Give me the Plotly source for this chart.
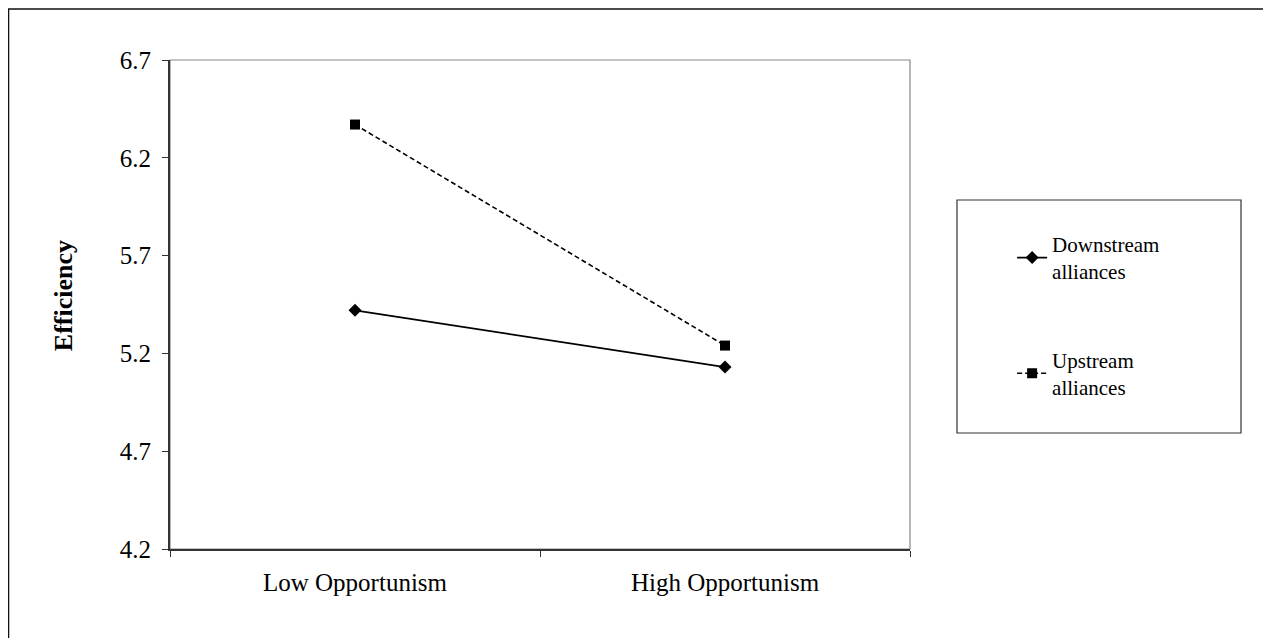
import plotly.graph_objects as go

categories = ["Low Opportunism", "High Opportunism"]
downstream = [5.42, 5.13]
upstream = [6.37, 5.24]
series_names = ["Downstream<br>alliances", "Upstream<br>alliances"]
y_ticks = [4.2, 4.7, 5.2, 5.7, 6.2, 6.7]
y_title = "Efficiency"

FONT = "Liberation Serif"

fig = go.Figure()
fig.add_trace(go.Scatter(
    x=categories, y=downstream, name=series_names[0], legendgroup="a",
    mode="lines+markers",
    line=dict(color="black", width=1.6),
    marker=dict(symbol="diamond", size=10, color="black"),
))
fig.add_trace(go.Scatter(
    x=categories, y=upstream, name=series_names[1], legendgroup="b",
    mode="lines+markers",
    line=dict(color="black", width=1.6, dash="5px,3px"),
    marker=dict(symbol="square", size=10, color="black"),
))

fig.update_layout(
    width=1263, height=630,
    margin=dict(l=162, r=361, t=52, b=89),
    paper_bgcolor="white", plot_bgcolor="white",
    font=dict(family=FONT, color="black", size=25),
    showlegend=True,
    legend=dict(
        x=1.138, y=0.665, xanchor="left", yanchor="top",
        font=dict(family=FONT, size=21, color="black"),
        bgcolor="rgba(0,0,0,0)", borderwidth=0,
        tracegroupgap=58, traceorder="grouped",
        itemwidth=30,
    ),
    xaxis=dict(
        type="category", range=[-0.5, 1.5],
        showline=True, linecolor="#333", linewidth=2,
        ticks="outside", ticklen=6, tickcolor="#333", tickson="boundaries",
        showgrid=False, zeroline=False,
        tickfont=dict(family=FONT, size=25),
        ticklabelstandoff=10,
    ),
    yaxis=dict(
        range=[4.2, 6.7], tickvals=y_ticks, ticktext=[f"{v:.1f}" for v in y_ticks],
        showline=True, linecolor="#333", linewidth=2,
        ticks="outside", ticklen=6, tickcolor="#333",
        showgrid=False, zeroline=False,
        tickfont=dict(family=FONT, size=25),
        ticklabelstandoff=6,
    ),
    annotations=[
        dict(text=f"<b>{y_title}</b>", xref="paper", yref="paper",
             x=-0.1446, y=0.519, xanchor="center", yanchor="middle",
             textangle=-90, showarrow=False,
             font=dict(family=FONT, size=26, color="black")),
    ],
    shapes=[
        # plot area frame (gray), behind axes
        dict(type="rect", xref="paper", yref="paper", x0=0, y0=0, x1=1, y1=1,
             line=dict(color="#888", width=1.2), layer="below"),
        # outer chart border
        dict(type="rect", xref="paper", yref="paper", x0=-0.2182, y0=-0.35, x1=1.6, y1=1.1043,
             line=dict(color="#111", width=1.5), layer="below"),
        # legend box
        dict(type="rect", xref="paper", yref="paper", x0=1.0635, y0=0.2372, x1=1.4473, y1=0.7137,
             line=dict(color="#333", width=1.2), layer="below"),
    ],
)

fig.write_html("out.html")
